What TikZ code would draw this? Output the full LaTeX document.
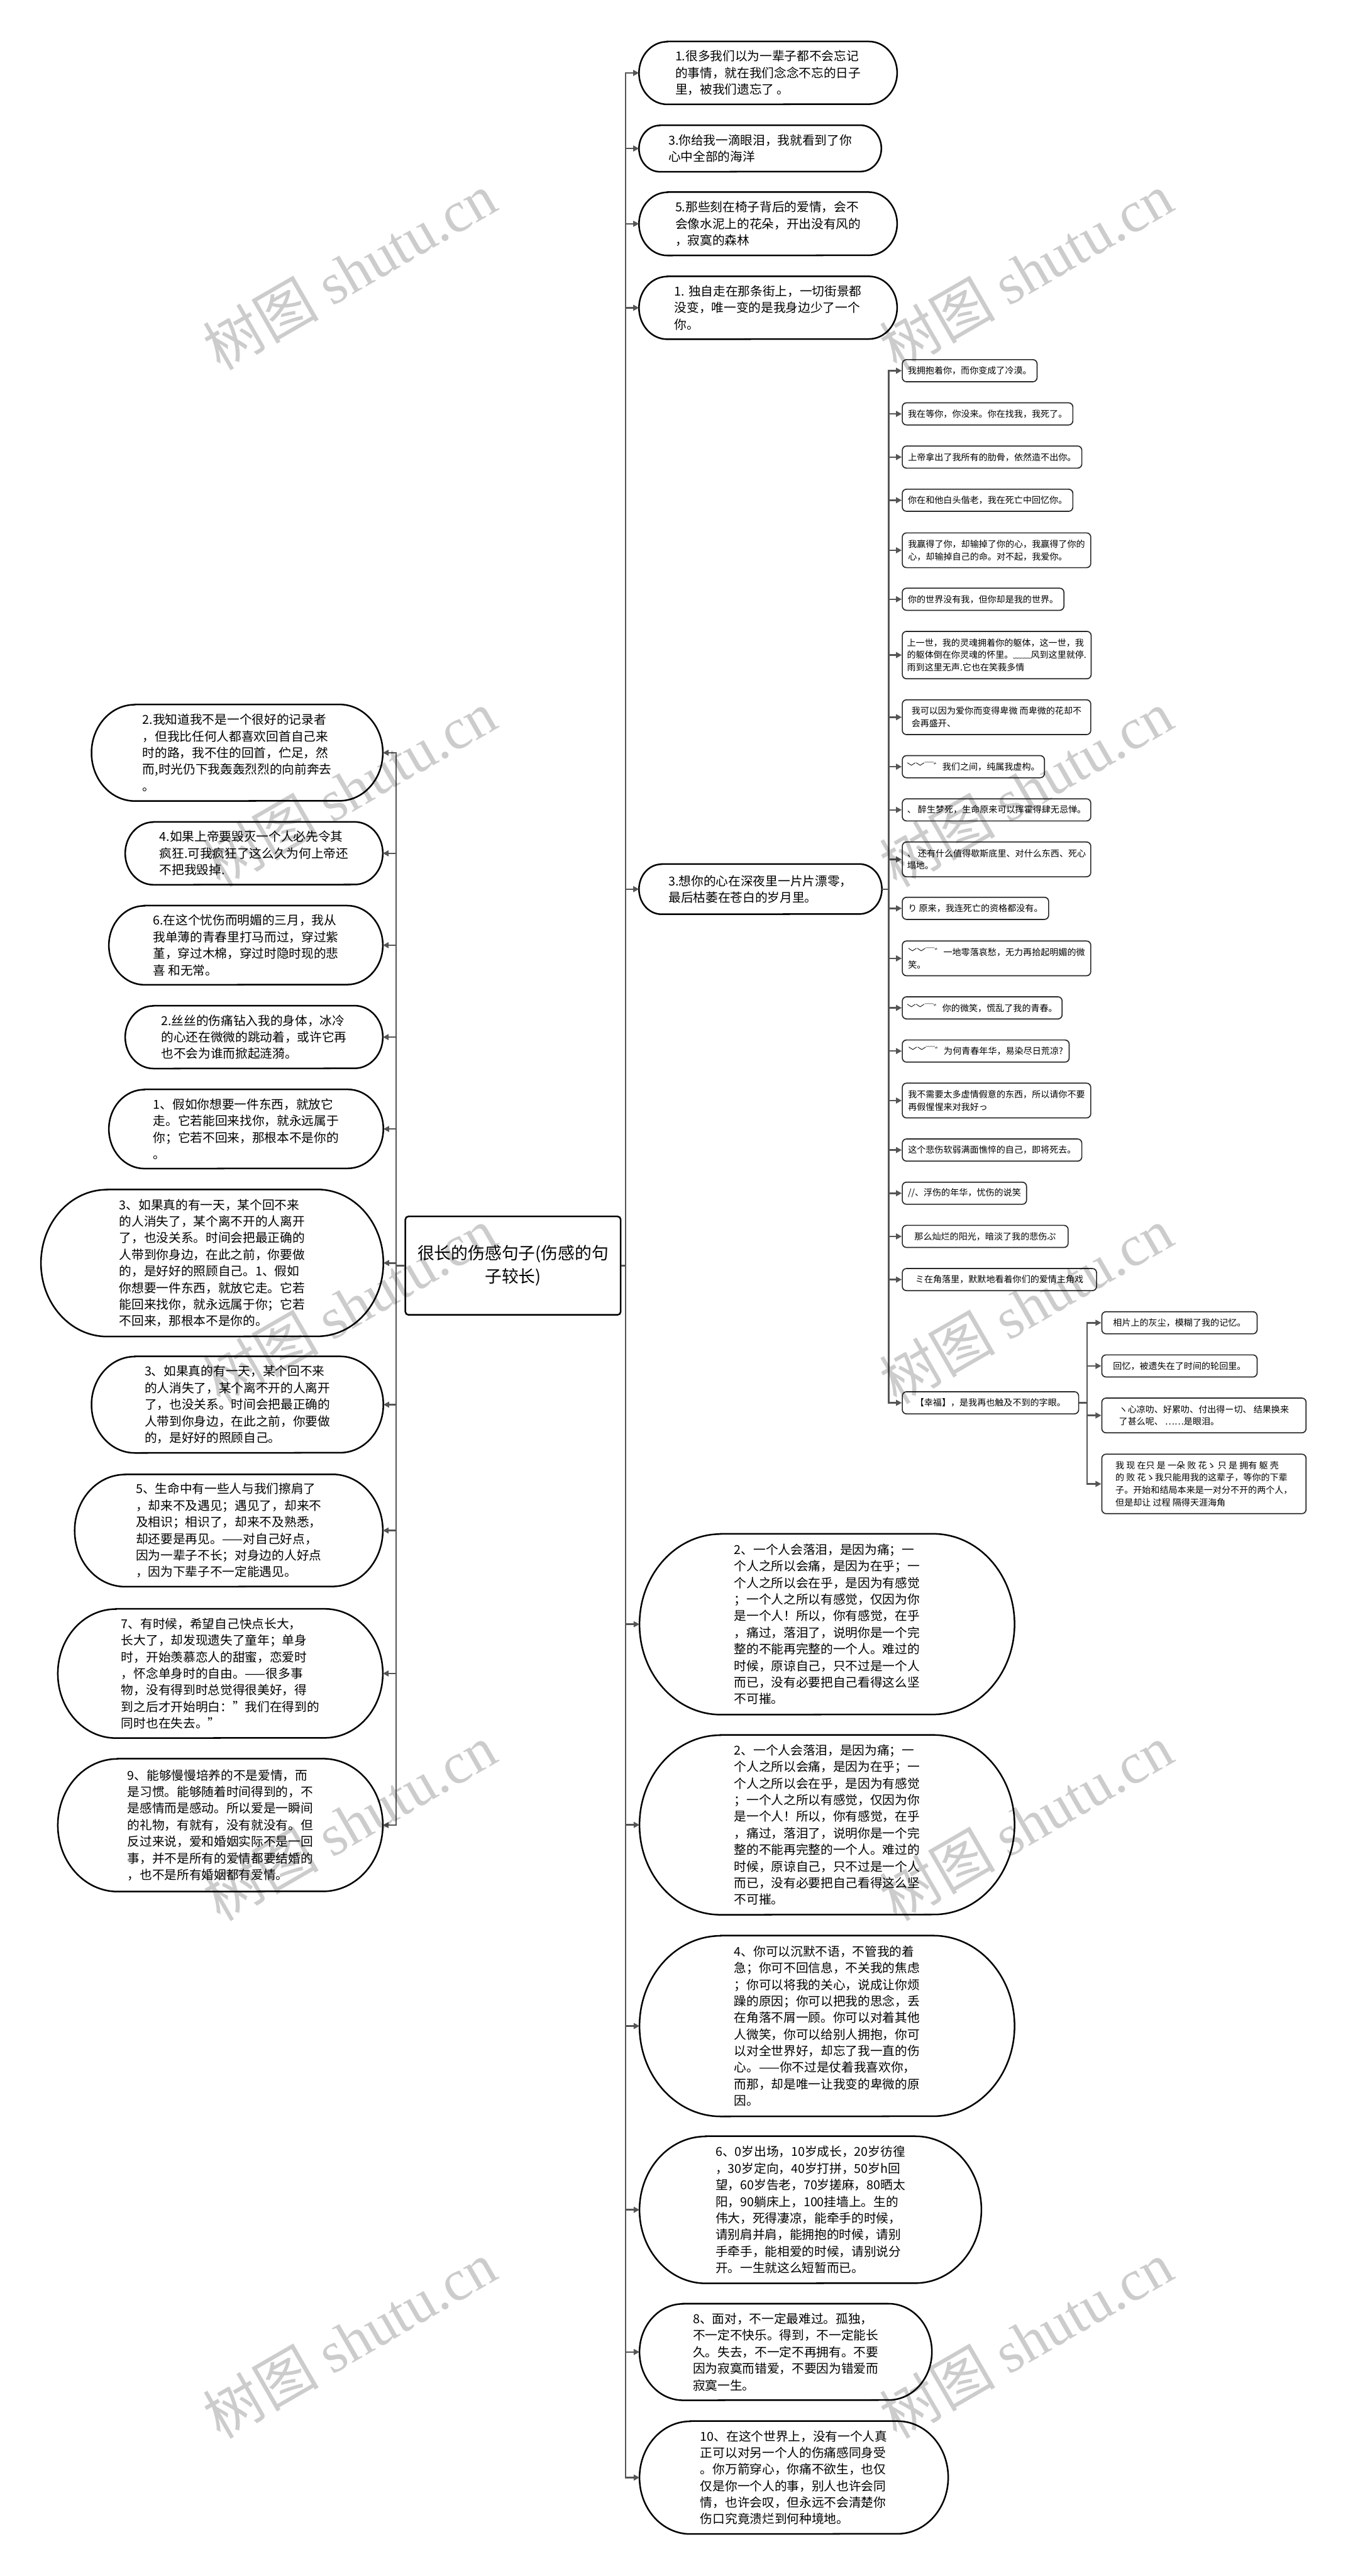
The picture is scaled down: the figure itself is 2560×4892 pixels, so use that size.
\documentclass[tikz,border=0pt]{standalone}
\usepackage{fontspec}
\setmainfont{Noto Sans CJK SC}
\newfontfamily\wmserif{Liberation Serif}
\usetikzlibrary{arrows.meta}
\newcommand{\mystad}[6]{%
  \node[stadbox, minimum width=#4pt, minimum height=#5pt] (#1) at (#2,#3) {#6};
  \pgfmathsetmacro\sry{#5/2}\pgfmathsetmacro\srx{0.9*#5/2}%
  \draw[stadline] ([xshift=\srx pt]#1.north west) -- ([xshift=-\srx pt]#1.north east)
    arc[start angle=90,end angle=-90,x radius=\srx pt,y radius=\sry pt]
    -- ([xshift=\srx pt]#1.south west)
    arc[start angle=270,end angle=90,x radius=\srx pt,y radius=\sry pt] -- cycle;}
\begin{document}
\begin{tikzpicture}[x=1pt,y=-1pt,
  conn/.style={line width=3pt, draw={rgb,255:red,85;green,85;blue,85}},
  tip/.style={-{Triangle[length=11pt,width=11pt]}},
  stadbox/.style={rectangle, inner sep=0pt, align=left, font=\fontsize{23.5}{31.5}\selectfont},
  stadline/.style={line width=3pt, draw=black},
  leaf/.style={draw={rgb,255:red,40;green,40;blue,40}, line width=2pt, rounded corners=8pt, fill=white, inner xsep=9pt, inner ysep=0pt, align=left, anchor=west, font=\fontsize{16.8}{23.5}\selectfont, minimum height=42pt},
  leaf2/.style={leaf, minimum height=66pt},
  leaf3/.style={leaf, minimum height=90pt},
  leaf4/.style={leaf, minimum height=113pt},
  ctrbox/.style={draw=black, line width=3pt, rounded corners=6pt, fill=white, align=center, inner sep=0pt, font=\fontsize{32}{45}\selectfont},
  wm/.style={rotate=30, opacity=0.2, font=\fontsize{110}{110}\selectfont}
]
\useasboundingbox (0,0) rectangle (2560,4892);
\fill[white] (0,0) rectangle (2560,4892);

% centre
\node[ctrbox, minimum width=409pt, minimum height=187pt] (ctr) at (974.5,2403.5) {很长的伤感句子(伤感的句\\子较长)};

% right top-level
\mystad{r1}{1459}{138.5}{490}{119}{1.很多我们以为一辈子都不会忘记\\的事情，就在我们念念不忘的日子\\里，被我们遗忘了 。}
\mystad{r2}{1444}{282}{460}{88}{3.你给我一滴眼泪，我就看到了你\\心中全部的海洋}
\mystad{r3}{1459}{425}{490}{120}{5.那些刻在椅子背后的爱情，会不\\会像水泥上的花朵，开出没有风的\\，寂寞的森林}
\mystad{r4}{1459}{584.5}{490}{119}{1. 独自走在那条街上，一切街景都\\没变，唯一变的是我身边少了一个\\你。}
\mystad{r5}{1444.5}{1688.5}{461}{95}{3.想你的心在深夜里一片片漂零，\\最后枯萎在苍白的岁月里。}
\mystad{r6}{1571}{3084.5}{712}{343}{2、一个人会落泪，是因为痛；一\\个人之所以会痛，是因为在乎；一\\个人之所以会在乎，是因为有感觉\\；一个人之所以有感觉，仅因为你\\是一个人！所以，你有感觉，在乎\\，痛过，落泪了，说明你是一个完\\整的不能再完整的一个人。难过的\\时候，原谅自己，只不过是一个人\\而已，没有必要把自己看得这么坚\\不可摧。}
\mystad{r7}{1571}{3465.5}{712}{341}{2、一个人会落泪，是因为痛；一\\个人之所以会痛，是因为在乎；一\\个人之所以会在乎，是因为有感觉\\；一个人之所以有感觉，仅因为你\\是一个人！所以，你有感觉，在乎\\，痛过，落泪了，说明你是一个完\\整的不能再完整的一个人。难过的\\时候，原谅自己，只不过是一个人\\而已，没有必要把自己看得这么坚\\不可摧。}
\mystad{r8}{1571}{3847.5}{712}{343}{4、你可以沉默不语，不管我的着\\急；你可不回信息，不关我的焦虑\\；你可以将我的关心，说成让你烦\\躁的原因；你可以把我的思念，丢\\在角落不屑一顾。你可以对着其他\\人微笑，你可以给别人拥抱，你可\\以对全世界好，却忘了我一直的伤\\心。——你不过是仗着我喜欢你，\\而那，却是唯一让我变的卑微的原\\因。}
\mystad{r9}{1539.5}{4196.5}{649}{279}{6、0岁出场，10岁成长，20岁彷徨\\，30岁定向，40岁打拼，50岁h回\\望，60岁告老，70岁搓麻，80晒太\\阳，90躺床上，100挂墙上。生的\\伟大，死得凄凉，能牵手的时候，\\请别肩并肩，能拥抱的时候，请别\\手牵手，能相爱的时候，请别说分\\开。一生就这么短暂而已。}
\mystad{r10}{1492.5}{4466.5}{555}{183}{8、面对，不一定最难过。孤独，\\不一定不快乐。得到，不一定能长\\久。失去，不一定不再拥有。不要\\因为寂寞而错爱，不要因为错爱而\\寂寞一生。}
\mystad{r11}{1508}{4705}{586}{214}{10、在这个世界上，没有一个人真\\正可以对另一个人的伤痛感同身受\\。你万箭穿心，你痛不欲生，也仅\\仅是你一个人的事，别人也许会同\\情，也许会叹，但永远不会清楚你\\伤口究竟溃烂到何种境地。}

% left
\mystad{l1}{450.5}{1429.5}{553}{183}{2.我知道我不是一个很好的记录者\\，但我比任何人都喜欢回首自己来\\时的路，我不住的回首，伫足，然\\而,时光仍下我轰轰烈烈的向前奔去\\。}
\mystad{l2}{482.5}{1620.5}{489}{119}{4.如果上帝要毁灭一个人必先令其\\疯狂.可我疯狂了这么久为何上帝还\\不把我毁掉.}
\mystad{l3}{467}{1795}{520}{150}{6.在这个忧伤而明媚的三月，我从\\我单薄的青春里打马而过，穿过紫\\堇，穿过木棉，穿过时隐时现的悲\\喜 和无常。}
\mystad{l4}{482.5}{1969.5}{489}{119}{2.丝丝的伤痛钻入我的身体，冰冷\\的心还在微微的跳动着，或许它再\\也不会为谁而掀起涟漪。}
\mystad{l5}{467.5}{2144}{521}{150}{1、假如你想要一件东西，就放它\\走。它若能回来找你，就永远属于\\你；它若不回来，那根本不是你的\\。}
\mystad{l6}{403}{2398.5}{650}{279}{3、如果真的有一天，某个回不来\\的人消失了，某个离不开的人离开\\了，也没关系。时间会把最正确的\\人带到你身边，在此之前，你要做\\的，是好好的照顾自己。1、假如\\你想要一件东西，就放它走。它若\\能回来找你，就永远属于你；它若\\不回来，那根本不是你的。}
\mystad{l7}{451}{2667.5}{554}{183}{3、如果真的有一天，某个回不来\\的人消失了，某个离不开的人离开\\了，也没关系。时间会把最正确的\\人带到你身边，在此之前，你要做\\的，是好好的照顾自己。}
\mystad{l8}{434.5}{2906.5}{585}{213}{5、生命中有一些人与我们擦肩了\\，却来不及遇见；遇见了，却来不\\及相识；相识了，却来不及熟悉，\\却还要是再见。——对自己好点，\\因为一辈子不长；对身边的人好点\\，因为下辈子不一定能遇见。}
\mystad{l9}{418.5}{3178}{617}{245}{7、有时候，希望自己快点长大，\\长大了，却发现遗失了童年；单身\\时，开始羡慕恋人的甜蜜，恋爱时\\，怀念单身时的自由。——很多事\\物，没有得到时总觉得很美好，得\\到之后才开始明白："我们在得到的\\同时也在失去。"}
\mystad{l10}{418.5}{3466}{617}{252}{9、能够慢慢培养的不是爱情，而\\是习惯。能够随着时间得到的，不\\是感情而是感动。所以爱是一瞬间\\的礼物，有就有，没有就没有。但\\反过来说，爱和婚姻实际不是一回\\事，并不是所有的爱情都要结婚的\\，也不是所有婚姻都有爱情。}

% leaves of r5
\node[leaf, minimum width=256pt] (c1) at (1713,704) {我拥抱着你，而你变成了冷漠。};
\node[leaf, minimum width=324pt] (c2) at (1713,786) {我在等你，你没来。你在找我，我死了。};
\node[leaf, minimum width=341pt] (c3) at (1713,868) {上帝拿出了我所有的肋骨，依然造不出你。};
\node[leaf, minimum width=324pt] (c4) at (1713,950) {你在和他白头偕老，我在死亡中回忆你。};
\node[leaf2, minimum width=358pt] (c5) at (1713,1045) {我赢得了你，却输掉了你的心，我赢得了你的\\心，却输掉自己的命。对不起，我爱你。};
\node[leaf, minimum width=307pt] (c6) at (1713,1138) {你的世界没有我，但你却是我的世界。};
\node[leaf3, minimum width=358pt] (c7) at (1713,1244) {上一世，我的灵魂拥着你的躯体，这一世，我\\的躯体倒在你灵魂的怀里。﹏﹏风到这里就停.\\雨到这里无声.它也在笑莪多情};
\node[leaf2, minimum width=358pt] (c8) at (1713,1362) {我可以因为爱你而变得卑微 而卑微的花却不\\会再盛开、};
\node[leaf, minimum width=266pt] (c9) at (1713,1456) {﹀﹀￣゛我们之间，纯属我虚构。};
\node[leaf, minimum width=358pt] (c10) at (1713,1538) {、 醉生梦死，生命原来可以挥霍得肆无忌惮。};
\node[leaf2, minimum width=358pt] (c11) at (1713,1632) {、 还有什么值得歇斯底里、对什么东西、死心\\塌地。};
\node[leaf, minimum width=278pt] (c12) at (1713,1725) {り 原来，我连死亡的资格都没有。};
\node[leaf2, minimum width=358pt] (c13) at (1713,1820) {﹀﹀￣゛一地零落哀愁，无力再拾起明媚的微\\笑。};
\node[leaf, minimum width=300pt] (c14) at (1713,1914) {﹀﹀￣゛你的微笑，慌乱了我的青春。};
\node[leaf, minimum width=317pt] (c15) at (1713,1996) {﹀﹀￣゛为何青春年华，易染尽日荒凉?};
\node[leaf2, minimum width=358pt] (c16) at (1713,2090) {我不需要太多虚情假意的东西，所以请你不要\\再假惺惺来对我好っ};
\node[leaf, minimum width=341pt] (c17) at (1713,2184) {这个悲伤软弱满面憔悴的自己，即将死去。};
\node[leaf, minimum width=236pt] (c18) at (1713,2266) {//、浮伤的年华，忧伤的说笑};
\node[leaf, minimum width=315pt] (c19) at (1713,2348) {那么灿烂的阳光，暗淡了我的悲伤ぷ};
\node[leaf, minimum width=369pt] (c20) at (1713,2430) {ミ在角落里，默默地看着你们的爱情主角戏};
\node[leaf, minimum width=335pt] (c21) at (1713,2664) {【幸福】，是我再也触及不到的字眼。};
\node[leaf, minimum width=295pt] (g1) at (2092,2512) {相片上的灰尘，模糊了我的记忆。};
\node[leaf, minimum width=295pt] (g2) at (2092,2594) {回忆，被遗失在了时间的轮回里。};
\node[leaf2, minimum width=388pt] (g3) at (2092,2688) {ヽ心凉叻、好累叻、付出得ー切、 结果换来\\了甚么呢、 ……是眼泪。};
\node[leaf4, minimum width=388pt] (g4) at (2092,2818) {我 现 在只 是 一朵 败 花ゝ 只 是 拥有 躯 壳\\的 败 花ゝ我只能用我的这辈子，等你的下辈\\子。开始和结局本来是一对分不开的两个人，\\但是却让 过程 隔得天涯海角};

% connectors right
\foreach \n in {r1,r2,r3,r4,r5,r6,r7,r8,r9,r10,r11}
  \draw[conn,tip] (ctr.east) -- ++(8,0) |- (\n.west);
% connectors left
\foreach \n in {l1,l2,l3,l4,l5,l6,l7,l8,l9,l10}
  \draw[conn,tip] (ctr.west) -- ++(-16,0) |- (\n.east);
% r5 leaves
\foreach \n in {c1,c2,c3,c4,c5,c6,c7,c8,c9,c10,c11,c12,c13,c14,c15,c16,c17,c18,c19,c20,c21}
  \draw[conn,tip] (r5.east) -- ++(13,0) |- (\n.west);
\foreach \n in {g1,g2,g3,g4}
  \draw[conn,tip] (c21.east) -- ++(15,0) |- (\n.west);

% watermarks
\foreach \wx/\wy/\k in {664/515/1,1949/515/2,664/1497/3,1949/1497/4,664/2479/5,1949/2479/6,664/3461/7,1949/3461/8,664/4443/9,1949/4443/10}
  \node[wm] (wm\k) at (\wx,\wy) {树图 {\wmserif shutu.cn}};
\end{tikzpicture}
\end{document}
